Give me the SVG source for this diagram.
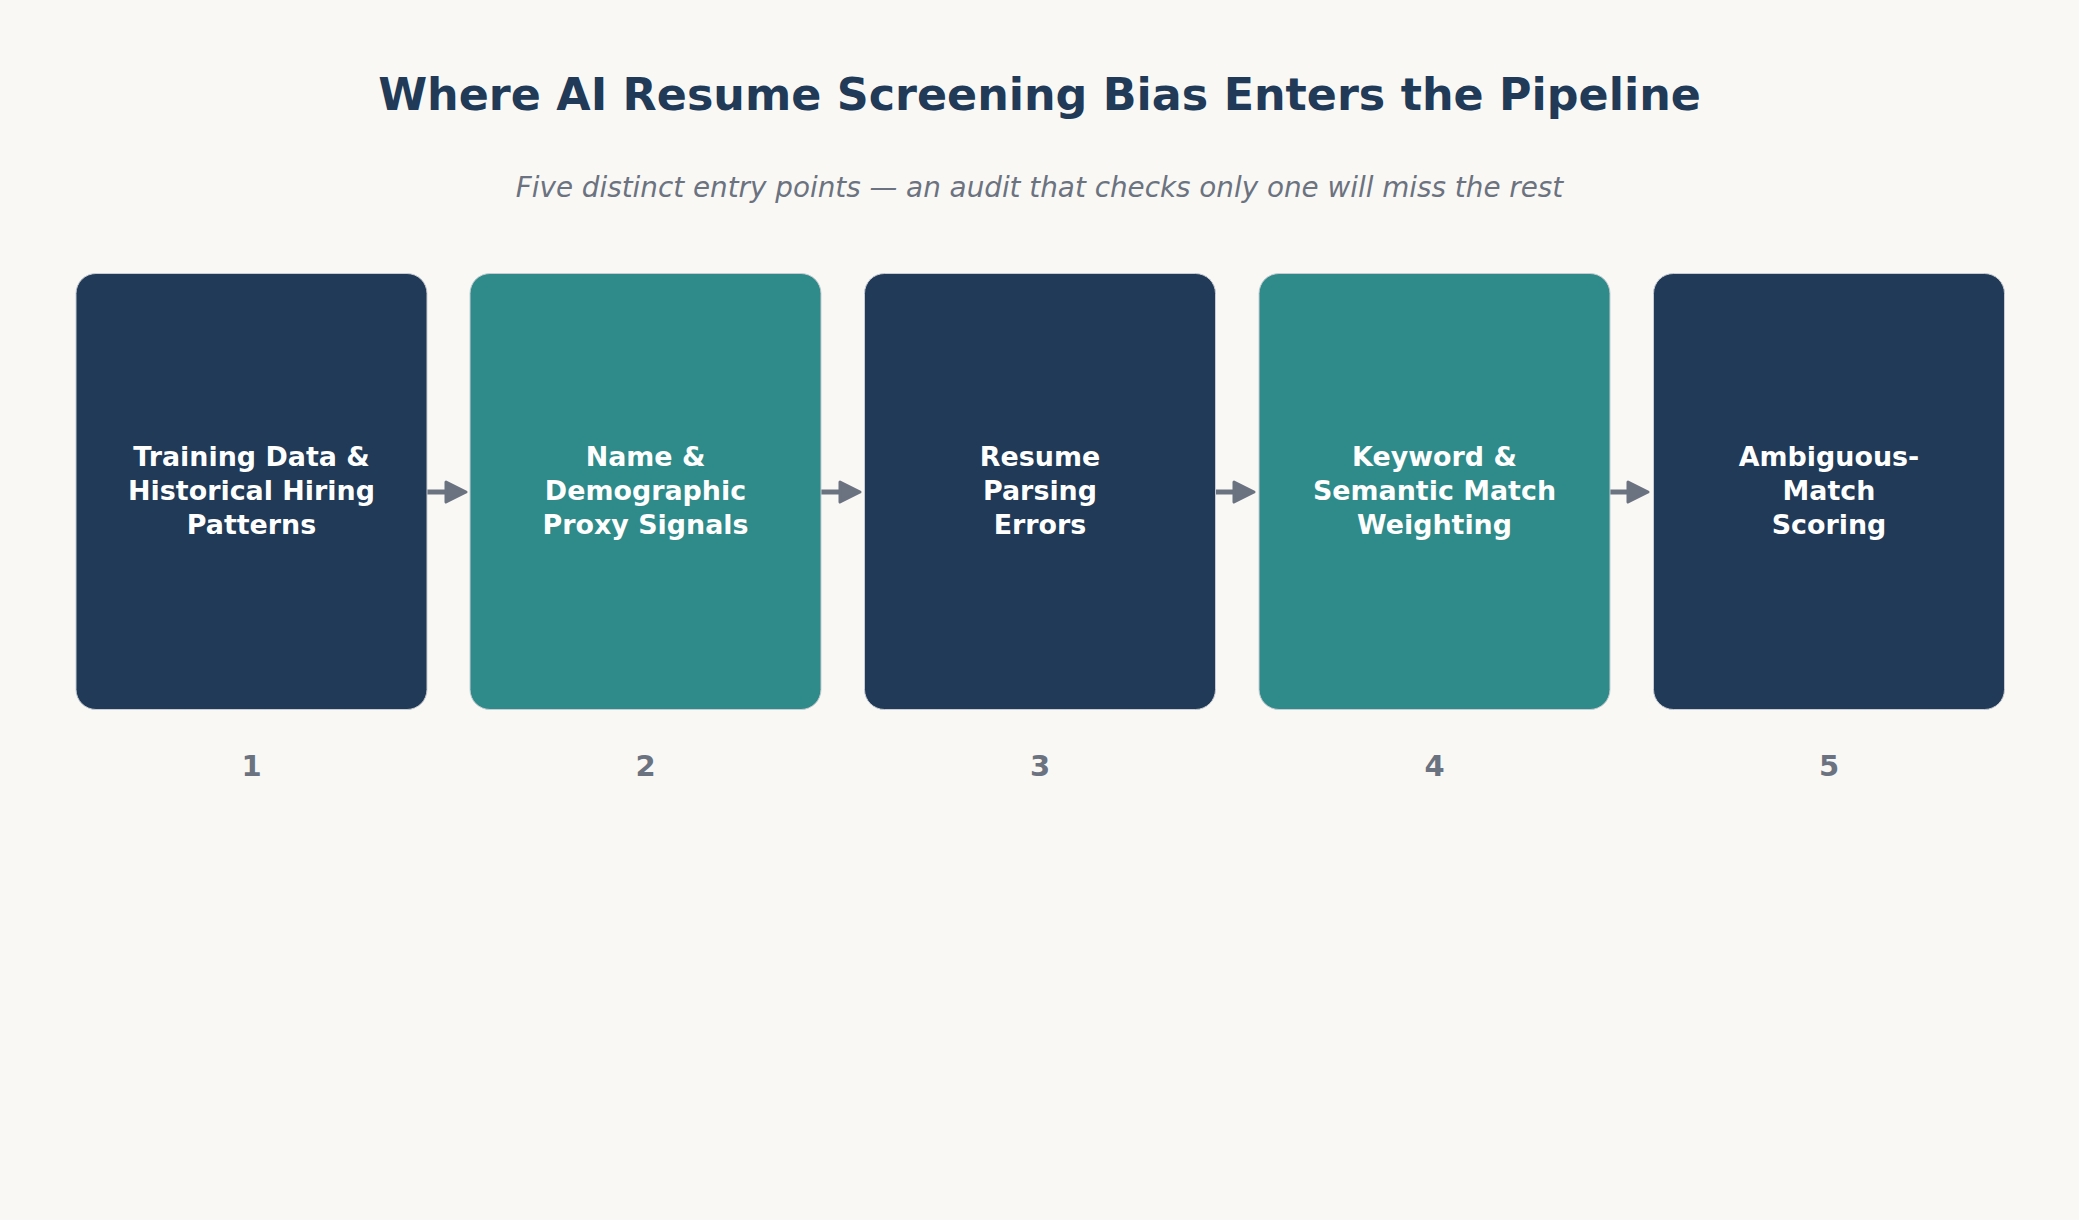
<svg xmlns="http://www.w3.org/2000/svg" width="2079" height="1220" viewBox="0 0 2079 1220">
<style>
.title{font-family:"DejaVu Sans",sans-serif;font-weight:bold;font-size:44.4px;fill:#203a57;text-anchor:middle}
.sub{font-family:"DejaVu Sans",sans-serif;font-style:italic;font-size:27.8px;fill:#6b7280;text-anchor:middle}
.lbl{font-family:"DejaVu Sans",sans-serif;font-weight:bold;font-size:26.9px;fill:#ffffff;text-anchor:middle}
.num{font-family:"DejaVu Sans",sans-serif;font-weight:bold;font-size:29px;fill:#6b7280;text-anchor:middle}
.navy{fill:#203a57}
.teal{fill:#2e8b8a}
.box{stroke:#c8ccd2;stroke-width:1;rx:20;ry:20}
.conn{stroke:#6b7280;stroke-width:5;fill:none}
.head{fill:#6b7280;stroke:#6b7280;stroke-width:3;stroke-linejoin:round}
</style>
<rect width="2079" height="1220" fill="#f9f8f5"/>
<text class="title" x="1039.5" y="110">Where AI Resume Screening Bias Enters the Pipeline</text>
<text class="sub" x="1039.5" y="197">Five distinct entry points — an audit that checks only one will miss the rest</text>
<g id="connectors">
<line class="conn" x1="427" y1="492" x2="450" y2="492"/>
<polygon class="head" points="446,482 466,492 446,502"/>
<line class="conn" x1="821" y1="492" x2="844" y2="492"/>
<polygon class="head" points="840,482 860,492 840,502"/>
<line class="conn" x1="1215" y1="492" x2="1238" y2="492"/>
<polygon class="head" points="1234,482 1254,492 1234,502"/>
<line class="conn" x1="1609" y1="492" x2="1632" y2="492"/>
<polygon class="head" points="1628,482 1648,492 1628,502"/>
</g>
<g id="node1">
<rect class="box navy" x="76" y="273.5" width="351" height="436"/>
<text class="lbl" x="251.5" y="466">Training Data &amp;</text>
<text class="lbl" x="251.5" y="500">Historical Hiring</text>
<text class="lbl" x="251.5" y="534">Patterns</text>
<text class="num" x="251.5" y="776">1</text>
</g>
<g id="node2">
<rect class="box teal" x="470" y="273.5" width="351" height="436"/>
<text class="lbl" x="645.5" y="466">Name &amp;</text>
<text class="lbl" x="645.5" y="500">Demographic</text>
<text class="lbl" x="645.5" y="534">Proxy Signals</text>
<text class="num" x="645.5" y="776">2</text>
</g>
<g id="node3">
<rect class="box navy" x="864.5" y="273.5" width="351" height="436"/>
<text class="lbl" x="1040" y="466">Resume</text>
<text class="lbl" x="1040" y="500">Parsing</text>
<text class="lbl" x="1040" y="534">Errors</text>
<text class="num" x="1040" y="776">3</text>
</g>
<g id="node4">
<rect class="box teal" x="1259" y="273.5" width="351" height="436"/>
<text class="lbl" x="1434.5" y="466">Keyword &amp;</text>
<text class="lbl" x="1434.5" y="500">Semantic Match</text>
<text class="lbl" x="1434.5" y="534">Weighting</text>
<text class="num" x="1434.5" y="776">4</text>
</g>
<g id="node5">
<rect class="box navy" x="1653.5" y="273.5" width="351" height="436"/>
<text class="lbl" x="1829" y="466">Ambiguous-</text>
<text class="lbl" x="1829" y="500">Match</text>
<text class="lbl" x="1829" y="534">Scoring</text>
<text class="num" x="1829" y="776">5</text>
</g>
</svg>
